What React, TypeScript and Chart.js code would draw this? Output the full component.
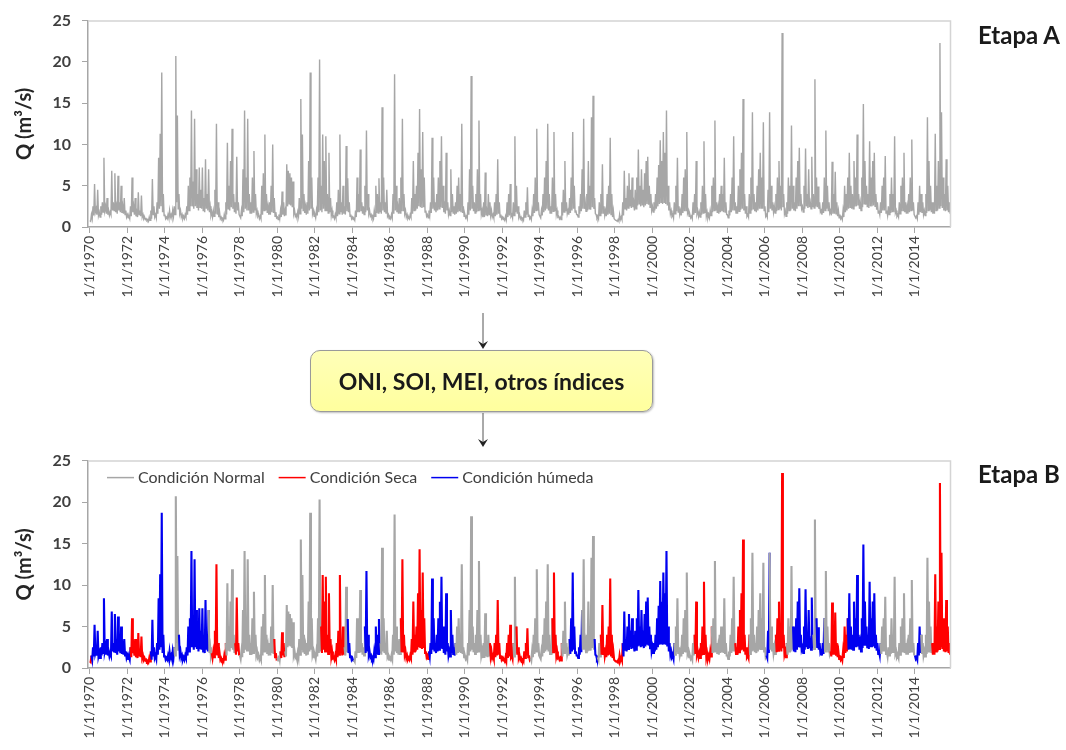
import React, { useEffect, useRef } from "react";
import { Chart, registerables } from "chart.js";

Chart.register(...registerables);

// ---------------- DATA ----------------
const years = [
  1970, 1971, 1972, 1973, 1974, 1975, 1976, 1977, 1978, 1979,
  1980, 1981, 1982, 1983, 1984, 1985, 1986, 1987, 1988, 1989,
  1990, 1991, 1992, 1993, 1994, 1995, 1996, 1997, 1998, 1999,
  2000, 2001, 2002, 2003, 2004, 2005, 2006, 2007, 2008, 2009,
  2010, 2011, 2012, 2013, 2014, 2015,
];

const tickYears = [
  1970, 1972, 1974, 1976, 1978, 1980, 1982, 1984, 1986, 1988, 1990, 1992,
  1994, 1996, 1998, 2000, 2002, 2004, 2006, 2008, 2010, 2012, 2014,
];

const yTicks = [0, 5, 10, 15, 20, 25];

// Monthly peak flow Q (m3/s), Jan..Dec, one row per year
const monthlyPeak: number[][] = [
  [0.8, 1.5, 2.5, 5.2, 2.2, 4.5, 1.8, 2.5, 3.0, 8.4, 2.5, 3.5], // 1970
  [2.0, 1.8, 6.8, 3.0, 6.5, 2.5, 6.2, 3.0, 5.0, 2.5, 3.5, 2.0], // 1971
  [1.5, 1.3, 2.5, 6.0, 2.5, 3.5, 1.8, 4.2, 2.0, 3.8, 1.5, 1.2], // 1972
  [1.0, 0.9, 1.2, 2.0, 5.8, 2.5, 1.5, 3.0, 8.4, 11.3, 18.7, 4.0], // 1973
  [1.5, 1.2, 1.5, 2.0, 1.5, 2.0, 2.5, 20.7, 13.5, 4.0, 2.0, 1.5], // 1974
  [1.3, 1.5, 2.5, 5.0, 6.0, 14.1, 5.5, 13.1, 7.0, 4.0, 7.2, 4.5], // 1975
  [7.2, 3.5, 8.2, 4.0, 7.0, 2.5, 1.8, 2.0, 4.5, 12.5, 3.0, 1.8], // 1976
  [1.2, 1.0, 1.5, 3.0, 10.2, 5.0, 8.0, 11.9, 4.0, 3.0, 8.5, 3.0], // 1977
  [1.5, 2.0, 7.0, 14.1, 6.0, 13.1, 4.0, 3.0, 6.0, 9.2, 4.0, 2.0], // 1978
  [1.5, 1.3, 5.0, 6.5, 11.2, 4.0, 2.5, 3.0, 5.0, 10.0, 3.5, 1.8], // 1979
  [1.2, 1.5, 2.0, 4.3, 3.0, 2.0, 7.6, 6.8, 6.5, 6.0, 5.5, 2.0], // 1980
  [1.5, 1.8, 3.5, 15.5, 11.2, 4.0, 2.5, 3.0, 8.0, 18.7, 6.0, 2.0], // 1981
  [1.5, 2.0, 6.0, 20.3, 5.0, 11.2, 8.0, 11.0, 4.0, 9.0, 3.5, 2.0], // 1982
  [1.3, 1.5, 3.0, 4.5, 11.2, 3.0, 5.0, 2.5, 9.8, 5.9, 3.0, 1.5], // 1983
  [1.2, 1.0, 2.0, 6.0, 4.0, 9.4, 3.0, 2.5, 5.0, 11.7, 4.0, 2.0], // 1984
  [1.5, 1.3, 2.0, 5.0, 4.0, 5.9, 3.0, 14.5, 6.0, 3.0, 4.5, 1.5], // 1985
  [1.2, 1.5, 4.0, 18.5, 5.0, 2.5, 3.5, 6.0, 13.1, 4.0, 2.0, 1.5], // 1986
  [1.2, 1.5, 3.5, 8.0, 4.0, 5.0, 9.0, 14.3, 7.0, 11.5, 6.0, 2.0], // 1987
  [1.5, 2.0, 3.0, 10.8, 6.0, 3.0, 4.0, 6.0, 8.0, 11.0, 5.0, 2.5], // 1988
  [9.0, 3.0, 2.0, 7.0, 4.0, 2.5, 3.0, 5.0, 6.0, 4.0, 12.5, 2.5], // 1989
  [1.5, 1.3, 3.0, 7.0, 18.3, 5.0, 3.0, 4.0, 7.0, 12.9, 4.0, 2.0], // 1990
  [3.0, 6.6, 2.0, 4.0, 3.0, 2.0, 1.5, 3.0, 4.0, 8.2, 3.0, 1.5], // 1991
  [1.2, 1.0, 1.3, 3.0, 4.0, 5.2, 1.5, 3.0, 11.0, 5.0, 2.5, 1.5], // 1992
  [1.2, 1.0, 2.0, 3.0, 4.8, 1.5, 1.2, 2.0, 4.0, 6.0, 11.9, 3.0], // 1993
  [1.5, 2.0, 4.0, 6.0, 8.0, 12.5, 4.0, 2.5, 6.0, 11.5, 4.0, 2.0], // 1994
  [1.3, 1.2, 3.0, 4.5, 8.0, 3.0, 2.0, 3.5, 6.0, 11.5, 5.0, 2.0], // 1995
  [1.5, 2.5, 4.0, 7.0, 13.1, 3.0, 4.0, 8.0, 5.0, 13.3, 15.9, 3.5], // 1996
  [1.5, 1.3, 3.0, 4.0, 7.6, 2.5, 2.0, 4.0, 5.0, 10.8, 4.0, 2.0], // 1997
  [1.0, 0.8, 0.9, 1.5, 1.2, 3.0, 6.8, 3.5, 5.0, 6.5, 4.5, 6.0], // 1998
  [3.0, 4.5, 6.0, 9.4, 5.0, 7.0, 4.5, 6.5, 8.0, 8.5, 5.0, 4.0], // 1999
  [2.5, 3.0, 4.0, 6.0, 7.5, 10.5, 8.0, 11.5, 9.0, 14.1, 5.0, 3.0], // 2000
  [2.0, 1.5, 3.0, 5.0, 8.4, 2.5, 2.0, 4.0, 6.0, 7.0, 11.5, 2.0], // 2001
  [1.5, 1.3, 3.0, 4.0, 8.0, 2.0, 1.8, 3.0, 5.0, 10.4, 4.0, 1.8], // 2002
  [1.5, 2.0, 5.0, 6.0, 12.9, 3.0, 2.5, 4.0, 5.0, 4.0, 8.4, 3.0], // 2003
  [1.5, 2.0, 4.0, 6.0, 11.0, 3.0, 2.5, 5.0, 7.0, 9.0, 15.5, 4.0], // 2004
  [2.5, 1.5, 4.0, 6.0, 13.9, 4.0, 3.0, 5.0, 7.0, 9.0, 6.0, 12.7], // 2005
  [2.5, 1.5, 4.5, 13.9, 5.0, 3.0, 2.5, 4.0, 6.0, 8.0, 5.0, 23.5], // 2006
  [4.0, 2.0, 3.0, 6.0, 5.0, 12.3, 5.0, 3.0, 6.0, 8.0, 9.6, 4.0], // 2007
  [2.5, 5.0, 9.5, 4.0, 7.0, 3.0, 8.5, 4.0, 17.9, 6.0, 4.9, 3.0], // 2008
  [2.0, 3.0, 6.0, 11.7, 5.0, 3.0, 2.0, 7.9, 4.0, 6.7, 3.0, 2.0], // 2009
  [1.5, 1.2, 2.0, 5.0, 4.0, 6.0, 9.0, 5.0, 4.0, 8.0, 6.0, 11.2], // 2010
  [4.0, 3.0, 6.0, 14.9, 8.0, 5.0, 4.0, 10.4, 6.0, 8.0, 9.0, 4.0], // 2011
  [3.0, 2.0, 3.0, 5.0, 6.0, 8.6, 2.0, 2.5, 4.0, 6.0, 4.0, 11.0], // 2012
  [2.0, 1.5, 3.0, 5.0, 6.0, 9.0, 3.0, 2.5, 4.0, 6.0, 10.6, 3.0], // 2013
  [1.5, 1.3, 3.0, 5.0, 4.0, 3.0, 2.0, 4.0, 13.3, 8.0, 5.0, 3.0], // 2014
  [3.0, 11.3, 5.0, 8.0, 22.3, 13.9, 6.0, 4.0, 8.2, 5.0, 3.0, 4.0], // 2015
];

// Mid-month low (recession) flow Q (m3/s), Jan..Dec, one row per year
const monthlyLow: number[][] = [
  [0.7, 1.0, 1.4, 1.8, 1.5, 1.4, 1.2, 1.5, 1.8, 2.0, 1.6, 1.5], // 1970
  [1.4, 1.5, 2.0, 2.0, 1.8, 1.6, 2.0, 1.8, 1.7, 1.6, 1.5, 1.2], // 1971
  [1.1, 1.0, 1.3, 1.8, 1.5, 1.3, 1.2, 1.5, 1.3, 1.2, 1.0, 0.9], // 1972
  [0.8, 0.7, 0.8, 1.0, 1.5, 1.2, 1.1, 1.6, 2.2, 2.5, 1.8, 1.4], // 1973
  [1.0, 1.0, 1.1, 1.2, 1.1, 1.3, 1.5, 3.0, 2.2, 1.6, 1.2, 1.0], // 1974
  [1.0, 1.2, 1.5, 2.0, 2.5, 2.5, 2.2, 2.5, 2.3, 2.0, 2.4, 2.2], // 1975
  [2.0, 1.8, 2.2, 2.0, 1.8, 1.4, 1.2, 1.3, 1.6, 1.5, 1.2, 1.0], // 1976
  [0.9, 0.8, 1.0, 1.5, 2.2, 2.0, 2.4, 2.2, 1.8, 1.6, 2.0, 1.5], // 1977
  [1.1, 1.3, 1.8, 2.2, 2.0, 2.0, 1.7, 1.6, 1.8, 2.0, 1.6, 1.3], // 1978
  [1.0, 1.0, 1.5, 2.0, 2.0, 1.7, 1.5, 1.5, 1.8, 1.7, 1.3, 1.1], // 1979
  [0.9, 1.0, 1.2, 1.5, 1.3, 1.4, 2.5, 2.8, 2.6, 2.4, 1.6, 1.3], // 1980
  [1.1, 1.3, 1.6, 2.2, 2.0, 1.7, 1.5, 1.6, 2.0, 2.2, 1.6, 1.3], // 1981
  [1.1, 1.4, 1.8, 2.0, 1.8, 2.2, 2.0, 1.9, 1.7, 1.8, 1.4, 1.2], // 1982
  [1.0, 1.1, 1.3, 1.6, 1.8, 1.5, 1.6, 1.5, 1.9, 1.8, 1.3, 1.0], // 1983
  [0.9, 0.8, 1.2, 1.8, 1.8, 1.9, 1.6, 1.5, 1.8, 2.0, 1.6, 1.3], // 1984
  [1.1, 1.0, 1.3, 1.7, 1.7, 1.8, 1.6, 2.0, 1.8, 1.6, 1.3, 1.0], // 1985
  [1.0, 1.1, 1.6, 2.0, 1.8, 1.6, 1.7, 1.9, 2.0, 1.6, 1.2, 1.0], // 1986
  [1.0, 1.2, 1.6, 2.0, 2.0, 2.2, 2.5, 2.4, 2.3, 2.4, 1.8, 1.3], // 1987
  [1.1, 1.4, 1.7, 2.2, 2.0, 1.8, 2.0, 2.2, 2.4, 2.3, 1.8, 1.6], // 1988
  [2.0, 1.5, 1.4, 1.8, 1.7, 1.5, 1.6, 1.8, 1.9, 1.8, 1.7, 1.3], // 1989
  [1.1, 1.0, 1.5, 2.0, 2.2, 1.9, 1.7, 1.8, 2.0, 2.0, 1.5, 1.2], // 1990
  [1.2, 1.4, 1.3, 1.5, 1.4, 1.2, 1.1, 1.3, 1.5, 1.6, 1.2, 1.0], // 1991
  [0.9, 0.8, 0.9, 1.2, 1.4, 1.3, 1.1, 1.4, 1.8, 1.6, 1.2, 1.0], // 1992
  [0.9, 0.8, 1.2, 1.5, 1.3, 1.0, 0.9, 1.3, 1.7, 2.0, 2.0, 1.5], // 1993
  [1.1, 1.4, 1.8, 2.0, 2.2, 2.0, 1.7, 1.6, 1.9, 1.9, 1.5, 1.2], // 1994
  [1.0, 0.9, 1.4, 1.8, 1.9, 1.6, 1.5, 1.7, 2.0, 2.2, 1.8, 1.5], // 1995
  [1.2, 1.6, 1.9, 2.2, 2.2, 1.9, 2.0, 2.2, 2.1, 2.4, 2.2, 1.6], // 1996
  [1.1, 1.0, 1.4, 1.6, 1.7, 1.4, 1.3, 1.5, 1.6, 1.5, 1.2, 1.0], // 1997
  [0.8, 0.7, 0.7, 0.9, 0.9, 1.4, 2.2, 2.0, 2.3, 2.5, 2.3, 2.4], // 1998
  [2.0, 2.2, 2.6, 2.8, 2.5, 2.6, 2.4, 2.6, 2.8, 2.7, 2.4, 2.0], // 1999
  [1.8, 2.0, 2.2, 2.5, 2.8, 3.0, 2.8, 3.0, 2.8, 2.6, 2.0, 1.6], // 2000
  [1.3, 1.1, 1.6, 1.9, 1.8, 1.5, 1.4, 1.7, 1.9, 2.0, 1.7, 1.3], // 2001
  [1.1, 1.0, 1.5, 1.7, 1.6, 1.3, 1.2, 1.5, 1.7, 1.7, 1.3, 1.1], // 2002
  [1.1, 1.4, 1.8, 2.0, 2.0, 1.7, 1.6, 1.8, 1.9, 1.8, 1.8, 1.5], // 2003
  [1.1, 1.4, 1.8, 2.0, 2.0, 1.7, 1.6, 1.9, 2.1, 2.2, 2.0, 1.6], // 2004
  [1.3, 1.2, 1.7, 2.0, 2.2, 1.9, 1.8, 2.0, 2.2, 2.3, 2.2, 2.0], // 2005
  [1.3, 1.2, 1.8, 2.2, 2.0, 1.8, 1.7, 1.9, 2.1, 2.2, 2.0, 2.4], // 2006
  [1.6, 1.3, 1.6, 2.0, 2.0, 2.2, 2.0, 1.9, 2.2, 2.5, 2.6, 2.2], // 2007
  [1.8, 2.2, 2.5, 2.3, 2.4, 2.2, 2.4, 2.3, 2.5, 2.4, 2.2, 1.8], // 2008
  [1.5, 1.7, 2.0, 2.2, 2.0, 1.7, 1.4, 1.6, 1.6, 1.6, 1.3, 1.1], // 2009
  [1.0, 0.9, 1.2, 1.8, 2.0, 2.2, 2.4, 2.2, 2.2, 2.5, 2.5, 2.6], // 2010
  [2.2, 2.0, 2.4, 2.8, 2.7, 2.4, 2.3, 2.5, 2.5, 2.6, 2.5, 2.1], // 2011
  [1.7, 1.5, 1.7, 2.0, 2.0, 1.7, 1.4, 1.5, 1.7, 1.8, 1.8, 1.7], // 2012
  [1.3, 1.2, 1.6, 1.9, 2.0, 1.8, 1.6, 1.6, 1.8, 2.0, 2.0, 1.5], // 2013
  [1.1, 1.0, 1.5, 1.8, 1.7, 1.5, 1.4, 1.7, 2.0, 2.0, 1.8, 1.6], // 2014
  [1.6, 2.0, 2.0, 2.3, 2.5, 2.3, 2.0, 1.9, 2.0, 1.8, 1.6, 1.7], // 2015
];

// ENSO condition per month: N = normal, S = seca, H = húmeda
const monthlyCondition: string[] = [
  "SHHHHHHHHHHH", // 1970
  "HHHHHHHHHHHH", // 1971
  "HHSSSSSSSSSS", // 1972
  "SSSHHHHHHHHH", // 1973
  "HHHHHHNNNHHH", // 1974
  "HHHHHHHHHHHH", // 1975
  "HHHHNNSSSSSS", // 1976
  "SSSNNNNNNSSS", // 1977
  "NNNNNNNNNNNN", // 1978
  "NNNNNNNNNNSS", // 1979
  "NNSSSNNNNNNN", // 1980
  "NNNNNNNNNNNN", // 1981
  "NNNNSSSSSSSS", // 1982
  "SSSSSSSNNHHH", // 1983
  "HNNNNNNNHHHH", // 1984
  "HHHHHHNNNNNN", // 1985
  "NNNNNNNSSSSS", // 1986
  "SSSSSSSSSSSS", // 1987
  "SHHHHHHHHHHH", // 1988
  "HHHHHHNNNNNN", // 1989
  "NNNNNNNNNNNN", // 1990
  "NNNNSSSSSSSS", // 1991
  "SSSSSSSNNSSS", // 1992
  "SSSSSSNNNNNN", // 1993
  "NNNNNNNNSSSS", // 1994
  "SSNNNNNHHHHH", // 1995
  "HHHNNNNNNNNH", // 1996
  "HNNSSSSSSSSS", // 1997
  "SSSSSHHHHHHH", // 1998
  "HHHHHHHHHHHH", // 1999
  "HHHHHHHHHHHH", // 2000
  "HHNNNNNNNNNN", // 2001
  "NNNSSSSSSSSS", // 2002
  "SSNNNNNNNNNN", // 2003
  "NNNNNSSSSSSS", // 2004
  "SSNNNNNNNNNN", // 2005
  "NHHNNNNSSSSS", // 2006
  "SSNNNNHHHHHH", // 2007
  "HHHHHHHNNHHH", // 2008
  "HHNNNNSSSSSS", // 2009
  "SSSSSHHHHHHH", // 2010
  "HHHHHHHHHHHH", // 2011
  "HHNNNNNNNNNN", // 2012
  "NNNNNNNNNNNN", // 2013
  "HHHHNNNNNNNS", // 2014
  "SSSSSSSSSSSS", // 2015
];

const conditionKeys = ["N", "S", "H"];
const conditionLabels = ["Condición Normal", "Condición Seca", "Condición húmeda"];
const conditionColors = ["#A6A6A6", "#FF0000", "#0000F0"];

const yTitle = "Q (m³/s)";
const stageLabels = ["Etapa A", "Etapa B"];
const indicesText = "ONI, SOI, MEI, otros índices";

// ---------------- derived ----------------
const points: { x: number; y: number }[] = [];
const pointConditions: string[] = [];
years.forEach((yr, i) => {
  monthlyPeak[i].forEach((q, m) => {
    const c = monthlyCondition[i][m];
    points.push({ x: yr + m / 12, y: q });
    pointConditions.push(c);
    points.push({ x: yr + (m + 0.5) / 12, y: monthlyLow[i][m] });
    pointConditions.push(c);
  });
});
const colorOf = (c: string) => conditionColors[Math.max(0, conditionKeys.indexOf(c))];

const FONT = "Lato, 'Open Sans', sans-serif";
const AXIS_COLOR = "#A6A6A6";

const framePlugin = {
  id: "frame",
  afterDatasetsDraw(chart: any) {
    const { ctx, chartArea: a } = chart;
    ctx.save();
    ctx.strokeStyle = "#D4D4D4";
    ctx.lineWidth = 1.5;
    ctx.beginPath();
    ctx.moveTo(a.left, a.top + 0.5);
    ctx.lineTo(a.right + 0.5, a.top + 0.5);
    ctx.lineTo(a.right + 0.5, a.bottom);
    ctx.stroke();
    ctx.restore();
  },
};

const legendPlugin = {
  id: "insideLegend",
  afterDraw(chart: any) {
    const { ctx, chartArea: a } = chart;
    ctx.save();
    ctx.font = `16px ${FONT}`;
    ctx.textBaseline = "middle";
    let x = a.left + 19;
    const y = a.top + 17;
    conditionLabels.forEach((label, i) => {
      ctx.strokeStyle = conditionColors[i];
      ctx.lineWidth = 1.5;
      ctx.beginPath();
      ctx.moveTo(x, y);
      ctx.lineTo(x + 27, y);
      ctx.stroke();
      x += 31;
      ctx.fillStyle = "#404040";
      ctx.fillText(label, x, y);
      x += ctx.measureText(label).width + 14;
    });
    ctx.restore();
  },
};

type FlowChartProps = {
  colored: boolean;
  top: number;
  width: number;
  height: number;
  padTop: number;
  xAxisHeight: number;
};

function FlowChart({ colored, top, width, height, padTop, xAxisHeight }: FlowChartProps) {
  const ref = useRef<HTMLCanvasElement>(null);
  useEffect(() => {
    const chart = new Chart(ref.current as HTMLCanvasElement, {
      type: "line",
      data: {
        datasets: [
          {
            data: points,
            borderColor: conditionColors[0],
            borderWidth: colored ? 2.1 : 1.4,
            pointRadius: 0,
            tension: 0,
            fill: false,
            segment: colored
              ? { borderColor: (ctx: any) => colorOf(pointConditions[ctx.p0DataIndex]) }
              : undefined,
          } as any,
        ],
      },
      options: {
        animation: false,
        responsive: false,
        maintainAspectRatio: false,
        layout: { padding: { top: padTop, right: width - 950, left: 0, bottom: 0 } },
        plugins: { legend: { display: false }, tooltip: { enabled: false } },
        scales: {
          x: {
            type: "linear",
            min: 1969.9,
            max: 2015.87,
            afterBuildTicks: (s: any) => {
              s.ticks = tickYears.map((v) => ({ value: v }));
            },
            afterFit: (s: any) => {
              s.height = xAxisHeight;
            },
            ticks: {
              minRotation: 90,
              maxRotation: 90,
              autoSkip: false,
              callback: (v: any) => "1/1/" + v,
              font: { family: FONT, size: 14 },
              color: "#404040",
              padding: 3,
            },
            grid: { drawOnChartArea: false, tickLength: 6, color: AXIS_COLOR },
            border: { color: AXIS_COLOR, width: 1.5 },
          },
          y: {
            min: 0,
            max: 25,
            afterBuildTicks: (s: any) => {
              s.ticks = yTicks.map((v) => ({ value: v }));
            },
            afterFit: (s: any) => {
              s.width = 88;
            },
            ticks: {
              font: { family: FONT, size: 16, weight: "bold" },
              color: "#404040",
              padding: 11,
            },
            grid: { drawOnChartArea: false, tickLength: 6, color: AXIS_COLOR },
            border: { color: AXIS_COLOR, width: 1.5 },
            title: {
              display: true,
              text: yTitle,
              font: { family: FONT, size: 20, weight: "bold" },
              color: "#262626",
              padding: { top: 13, bottom: 0 },
            },
          },
        },
      } as any,
      plugins: colored ? [framePlugin, legendPlugin] : [framePlugin],
    });
    return () => chart.destroy();
  }, []);
  return (
    <canvas
      ref={ref}
      width={width}
      height={height}
      style={{ position: "absolute", left: 0, top, width, height }}
    />
  );
}

function Arrow({ x, y1, y2 }: { x: number; y1: number; y2: number }) {
  return (
    <g>
      <line x1={x} y1={y1} x2={x} y2={y2 - 3} stroke="#555" strokeWidth={1} />
      <path
        d={`M${x - 5},${y2 - 8} L${x},${y2} L${x + 5},${y2 - 8} L${x},${y2 - 5} Z`}
        fill="#222"
      />
    </g>
  );
}

export default function App() {
  const stageStyle: React.CSSProperties = {
    position: "absolute",
    left: 978,
    fontFamily: FONT,
    fontWeight: 700,
    fontSize: 24,
    lineHeight: 1,
    color: "#1a1a1a",
    whiteSpace: "nowrap",
  };
  return (
    <div
      style={{
        position: "absolute",
        left: 0,
        top: 0,
        width: 1066,
        height: 750,
        background: "#ffffff",
        overflow: "hidden",
      }}
    >
      <FlowChart colored={false} top={0} width={970} height={320} padTop={17} xAxisHeight={93} />
      <FlowChart colored={true} top={440} width={970} height={310} padTop={18} xAxisHeight={82} />
      <svg
        width={1066}
        height={750}
        style={{ position: "absolute", left: 0, top: 0, pointerEvents: "none" }}
      >
        <Arrow x={483} y1={313} y2={349} />
        <Arrow x={483} y1={413} y2={447} />
      </svg>
      <div
        style={{
          position: "absolute",
          left: 310,
          top: 350,
          width: 343,
          height: 62,
          boxSizing: "border-box",
          background: "linear-gradient(180deg, #FFFFB8 0%, #FFFF9E 100%)",
          border: "1px solid #9A9A9A",
          borderRadius: 10,
          boxShadow: "1px 1px 2px rgba(0,0,0,0.25)",
          display: "flex",
          alignItems: "center",
          justifyContent: "center",
          fontFamily: FONT,
          fontWeight: 700,
          fontSize: 23,
          color: "#1a1a1a",
          whiteSpace: "nowrap",
        }}
      >
        {indicesText}
      </div>
      <div style={{ ...stageStyle, top: 23 }}>{stageLabels[0]}</div>
      <div style={{ ...stageStyle, top: 462 }}>{stageLabels[1]}</div>
    </div>
  );
}
